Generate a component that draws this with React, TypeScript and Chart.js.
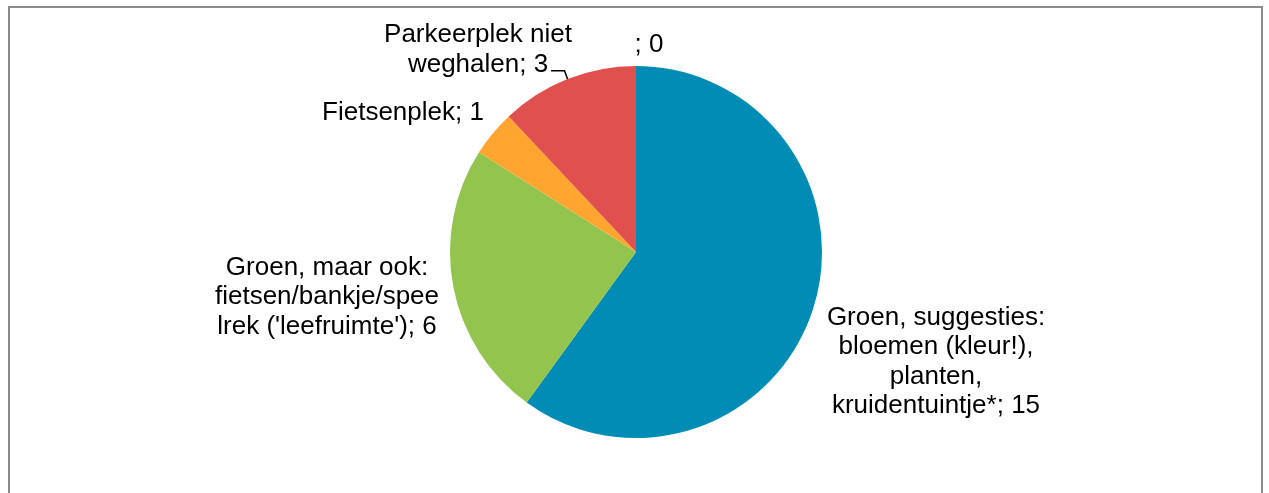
import React, { useEffect, useRef } from "react";
import { Chart, registerables } from "chart.js";

Chart.register(...registerables);

const categories: string[] = [
  "Groen, suggesties: bloemen (kleur!), planten, kruidentuintje*",
  "Groen, maar ook: fietsen/bankje/speelrek ('leefruimte')",
  "Fietsenplek",
  "Parkeerplek niet weghalen",
  "",
];
const values: number[] = [15, 6, 1, 3, 0];
const colors: string[] = ["#008CB4", "#92C44E", "#FFA530", "#E0504E", "#5B9BD5"];
// label text lines as shown in the chart
const labelLines: string[][] = [
  ["Groen, suggesties:", "bloemen (kleur!),", "planten,", "kruidentuintje*; 15"],
  ["Groen, maar ook:", "fietsen/bankje/spee", "lrek ('leefruimte'); 6"],
  ["Fietsenplek; 1"],
  ["Parkeerplek niet", "weghalen; 3"],
  ["; 0"],
];
// label block centre offsets relative to pie centre
const labelOffsets: [number, number][] = [
  [300, 110],
  [-309, 45],
  [-233, -139],
  [-158, -202],
  [13, -207],
];

const FONT = "26px 'Liberation Sans', Arial, sans-serif";
const LINE_H = 29.5;

const labelPlugin = {
  id: "pieLabels",
  afterDatasetsDraw(chart: any) {
    const ctx = chart.ctx;
    const meta = chart.getDatasetMeta(0);
    ctx.save();
    ctx.font = FONT;
    ctx.fillStyle = "#000";
    ctx.textAlign = "center";
    ctx.textBaseline = "middle";
    meta.data.forEach((arc: any, i: number) => {
      const cx = arc.x;
      const cy = arc.y;
      const lines = labelLines[i];
      const [dx, dy] = labelOffsets[i];
      const x = cx + dx;
      const top = cy + dy - ((lines.length - 1) * LINE_H) / 2;
      lines.forEach((l, j) => ctx.fillText(l, x, top + j * LINE_H));
      if (i === 3) {
        // leader line from label end to slice edge
        const last = lines[lines.length - 1];
        const w = ctx.measureText(last).width;
        const ly = top + (lines.length - 1) * LINE_H + 6;
        const sx = x + w / 2 + 3;
        const mid = (arc.startAngle + arc.endAngle) / 2;
        const ex = cx + Math.cos(mid) * arc.outerRadius;
        const ey = cy + Math.sin(mid) * arc.outerRadius;
        ctx.strokeStyle = "#000";
        ctx.lineWidth = 1.5;
        ctx.beginPath();
        ctx.moveTo(sx, ly);
        ctx.lineTo(ex - 3, ly);
        ctx.lineTo(ex, ey);
        ctx.stroke();
      }
    });
    ctx.restore();
  },
};

export default function App() {
  const ref = useRef<HTMLCanvasElement>(null);
  useEffect(() => {
    if (!ref.current) return;
    const chart = new Chart(ref.current, {
      type: "pie",
      data: {
        labels: categories,
        datasets: [
          {
            data: values,
            backgroundColor: colors,
            borderWidth: 0,
            hoverOffset: 0,
          },
        ],
      },
      options: {
        animation: false,
        responsive: false,
        events: [],
        layout: { padding: { top: 58, bottom: 126, left: 100, right: 99 } },
        plugins: {
          legend: { display: false },
          tooltip: { enabled: false },
        },
      },
      plugins: [labelPlugin],
    });
    return () => chart.destroy();
  }, []);
  return (
    <div
      style={{
        position: "absolute",
        left: 8,
        top: 6,
        width: 1255,
        height: 560,
        border: "2px solid #8a8a8a",
        boxSizing: "border-box",
        background: "#fff",
      }}
    >
      <canvas
        ref={ref}
        width={1251}
        height={556}
        style={{ position: "absolute", left: 0, top: 0, width: 1251, height: 556 }}
      />
    </div>
  );
}
